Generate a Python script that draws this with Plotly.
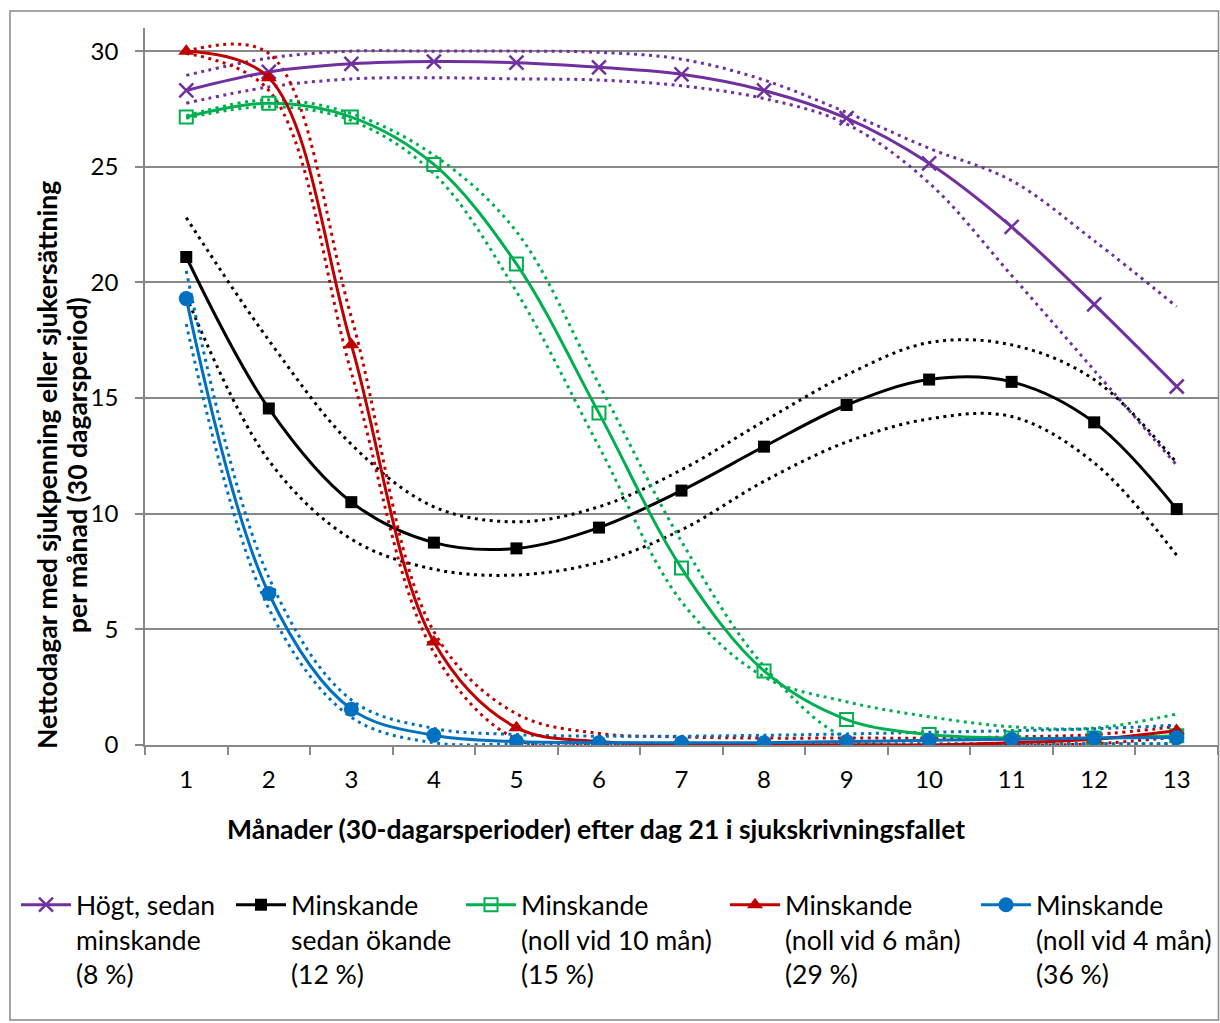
import plotly.graph_objects as go

months = [str(i) for i in range(1, 14)]

# Högt, sedan minskande (8 %)
purple = [28.3, 29.1, 29.45, 29.55, 29.5, 29.3, 29.0, 28.3, 27.1, 25.15, 22.4, 19.05, 15.5]
purple_hi = [28.95, 29.7, 30.0, 30.0, 30.0, 29.95, 29.65, 28.75, 27.35, 25.8, 24.4, 21.8, 18.95]
purple_lo = [27.75, 28.45, 28.8, 28.85, 28.8, 28.75, 28.5, 27.95, 26.85, 24.3, 20.3, 16.2, 12.1]

# Minskande sedan ökande (12 %)
black = [21.1, 14.55, 10.5, 8.75, 8.5, 9.4, 11.0, 12.9, 14.7, 15.8, 15.7, 13.95, 10.2]
black_hi = [22.8, 17.5, 13.0, 10.3, 9.65, 10.3, 11.9, 14.0, 16.0, 17.4, 17.3, 15.8, 12.2]
black_lo = [19.4, 12.3, 8.9, 7.6, 7.35, 7.9, 9.3, 11.4, 13.1, 14.1, 14.2, 12.2, 8.2]

# Minskande (noll vid 10 mån) (15 %)
green = [27.15, 27.75, 27.15, 25.1, 20.8, 14.35, 7.65, 3.2, 1.1, 0.45, 0.3, 0.3, 0.4]
green_hi = [27.2, 27.9, 27.3, 25.5, 22.2, 15.6, 8.8, 3.4, 0.3, 0.05, 0.05, 0.05, 0.05]
green_lo = [27.1, 27.6, 27.0, 24.7, 19.6, 12.9, 6.2, 2.95, 1.87, 1.22, 0.79, 0.73, 1.34]

# Minskande (noll vid 6 mån) (29 %)
red = [30.0, 28.85, 17.3, 4.45, 0.75, 0.15, 0.05, 0.0, 0.0, 0.0, 0.1, 0.25, 0.62]
red_hi = [30.0, 29.9, 18.5, 4.9, 1.35, 0.5, 0.35, 0.3, 0.3, 0.3, 0.35, 0.45, 0.8]
red_lo = [29.9, 28.3, 16.1, 4.0, 0.25, 0.0, 0.0, 0.0, 0.0, 0.0, 0.0, 0.05, 0.35]

# Minskande (noll vid 4 mån) (36 %)
blue = [19.3, 6.55, 1.55, 0.42, 0.15, 0.1, 0.1, 0.1, 0.15, 0.2, 0.25, 0.3, 0.32]
blue_hi = [20.5, 7.25, 1.95, 0.72, 0.45, 0.38, 0.38, 0.42, 0.48, 0.55, 0.62, 0.7, 0.86]
blue_lo = [18.2, 5.9, 1.2, 0.1, 0.05, 0.05, 0.05, 0.05, 0.05, 0.05, 0.05, 0.05, 0.05]

names = [
    "Högt, sedan<br>minskande<br>(8 %)",
    "Minskande<br>sedan ökande<br>(12 %)",
    "Minskande<br>(noll vid 10 mån)<br>(15 %)",
    "Minskande<br>(noll vid 6 mån)<br>(29 %)",
    "Minskande<br>(noll vid 4 mån)<br>(36 %)",
]
y_title_lines = ["Nettodagar med sjukpenning eller sjukersättning", "per månad (30 dagarsperiod)"]
x_title = "Månader (30-dagarsperioder) efter dag 21 i sjukskrivningsfallet"

colors = ["#7030A0", "#000000", "#00B050", "#C00000", "#0070C0"]
symbols = ["x-thin", "square", "square-open", "triangle-up", "circle"]
msizes = [14, 12, 13, 14, 15]
mains = [purple, black, green, red, blue]
his = [purple_hi, black_hi, green_hi, red_hi, blue_hi]
los = [purple_lo, black_lo, green_lo, red_lo, blue_lo]

FONT = "Lato"
fig = go.Figure()

for i in range(5):
    for band in (his[i], los[i]):
        fig.add_trace(go.Scatter(
            x=months, y=band, mode="lines", showlegend=False, hoverinfo="skip",
            line=dict(color=colors[i], width=3, dash="3px,4.5px", shape="spline", smoothing=1),
        ))

legend_keys = ["legend", "legend2", "legend3", "legend4", "legend5"]
for i in range(5):
    mk = dict(symbol=symbols[i], size=msizes[i], color=colors[i],
              line=dict(color=colors[i], width=2.5 if i == 0 else (2 if i == 2 else 0)))
    fig.add_trace(go.Scatter(
        x=months, y=mains[i], mode="lines+markers", name=names[i],
        legend=legend_keys[i],
        line=dict(color=colors[i], width=3, shape="spline", smoothing=1),
        marker=mk,
    ))

W, H = 1220, 1023
L, R, T, B = 145, 2, 28, 278
pw, ph = W - L - R, H - T - B

def px(x):
    return (x - L) / pw

def py(y):
    return (H - B - y) / ph

leg_sym_x = [22, 237, 467, 731, 982]
layout_legends = {}
for i, k in enumerate(legend_keys):
    layout_legends[k] = dict(
        x=(leg_sym_x[i] - 6) / W, y=1 - 881 / H, xref="container", yref="container",
        xanchor="left", yanchor="top", valign="top", bgcolor="rgba(0,0,0,0)",
        font=dict(family=FONT, size=26.5, color="#000000"), itemwidth=50,
    )

fig.update_layout(
    width=W, height=H,
    margin=dict(l=L, r=R, t=T, b=B, autoexpand=False),
    paper_bgcolor="white", plot_bgcolor="white",
    font=dict(family=FONT, size=24, color="#000000"),
    **layout_legends,
)

fig.update_xaxes(
    type="category", range=[-0.5, 12.5], showgrid=False, showline=True,
    linecolor="#888888", linewidth=1.5, ticks="outside", tickson="boundaries",
    ticklen=8, tickcolor="#888888", tickwidth=1.5, zeroline=False,
    tickfont=dict(family=FONT, size=24, color="#000000"), ticklabelstandoff=12,
)
fig.update_yaxes(
    range=[0, 31], tick0=0, dtick=5, showgrid=True, gridcolor="#888888", gridwidth=1.5,
    showline=True, linecolor="#888888", linewidth=1.5, ticks="outside", ticklen=8,
    tickcolor="#888888", tickwidth=1.5, zeroline=False,
    tickfont=dict(family=FONT, size=24, color="#000000"), ticklabelstandoff=12,
)

for txt, xc in zip(y_title_lines, [47, 77]):
    fig.add_annotation(
        text=txt, xref="paper", yref="paper", x=px(xc), y=py(465), textangle=-90,
        showarrow=False, xanchor="center", yanchor="middle",
        font=dict(family=FONT, size=26.5, color="#000000", weight="bold"),
    )
fig.add_annotation(
    text=x_title, xref="paper", yref="paper", x=px(596), y=py(829),
    showarrow=False, xanchor="center", yanchor="middle",
    font=dict(family=FONT, size=26.5, color="#000000", weight="bold"),
)

fig.add_shape(
    type="rect", xref="paper", yref="paper",
    x0=px(10), x1=px(1218.5), y0=py(1020), y1=py(11),
    line=dict(color="#888888", width=1.5), fillcolor="rgba(0,0,0,0)", layer="below",
)

fig.write_html("out.html", config={"displayModeBar": False},
               post_script="document.body.style.margin='0';")
